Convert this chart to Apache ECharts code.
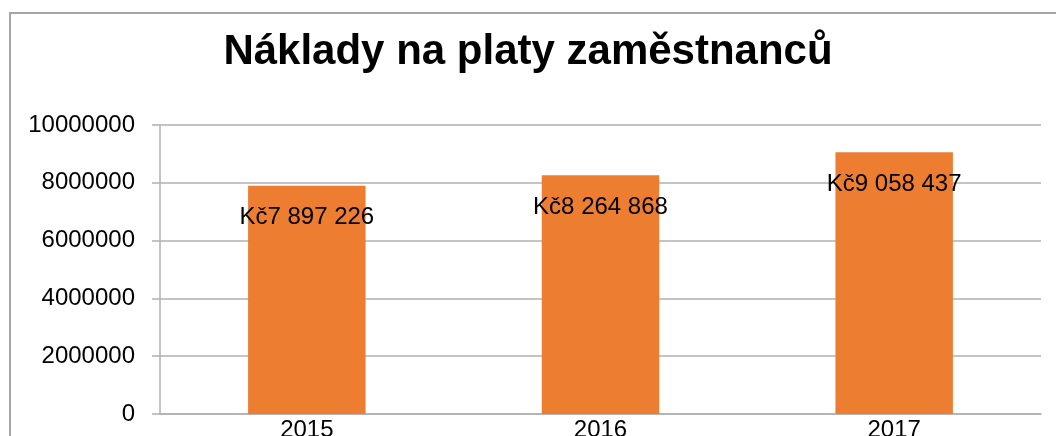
<!DOCTYPE html>
<html>
<head>
<meta charset="utf-8">
<script src="https://cdn.jsdelivr.net/npm/echarts@6/dist/echarts.min.js"></script>
<style>
  html, body { margin: 0; padding: 0; background: #fff; }
  #frame { position: absolute; left: 9px; top: 12px; width: 1060px; height: 440px;
           border-left: 2px solid #a6a6a6; border-top: 2px solid #a6a6a6; box-sizing: border-box; }
  #chart { position: absolute; left: 0; top: 0; width: 1056px; height: 436px; }
</style>
</head>
<body>
<div id="frame"></div>
<div id="chart"></div>
<script>
  var years = ['2015', '2016', '2017'];
  var costs = [7897226, 8264868, 9058437];

  function czk(v) {
    return 'Kč' + String(v).replace(/\B(?=(\d{3})+(?!\d))/g, ' ');
  }

  var chart = echarts.init(document.getElementById('chart'));
  var option = {
    animation: false,
    textStyle: { fontFamily: 'Liberation Sans' },
    title: {
      text: 'Náklady na platy zaměstnanců',
      left: 'center',
      top: 26,
      textStyle: { fontSize: 42, fontWeight: 'bold', color: '#000', fontFamily: 'Liberation Sans' }
    },
    grid: { left: 160, right: 15, top: 125, bottom: 22, containLabel: false, outerBoundsMode: 'none' },
    xAxis: {
      type: 'category',
      data: years,
      axisLine: { lineStyle: { color: '#b0b0b0', width: 1.5 } },
      axisTick: { show: false },
      axisLabel: { color: '#000', fontSize: 24, margin: 4 }
    },
    yAxis: {
      type: 'value',
      min: 0,
      max: 10000000,
      interval: 2000000,
      axisLine: { show: true, lineStyle: { color: '#b0b0b0', width: 1.5 } },
      axisTick: { show: true, length: 8, lineStyle: { color: '#b0b0b0', width: 1.5 } },
      splitLine: { lineStyle: { color: '#b0b0b0', width: 1.5 } },
      axisLabel: { color: '#000', fontSize: 24, margin: 25, formatter: function (v) { return String(v); } }
    },
    series: [{
      type: 'bar',
      data: costs,
      barWidth: '40%',
      itemStyle: { color: '#ed7d31' },
      label: {
        show: true,
        position: 'insideTop',
        distance: 20,
        color: '#000',
        fontSize: 24,
        formatter: function (p) { return czk(p.value); }
      }
    }]
  };
  chart.setOption(option);
</script>
</body>
</html>
